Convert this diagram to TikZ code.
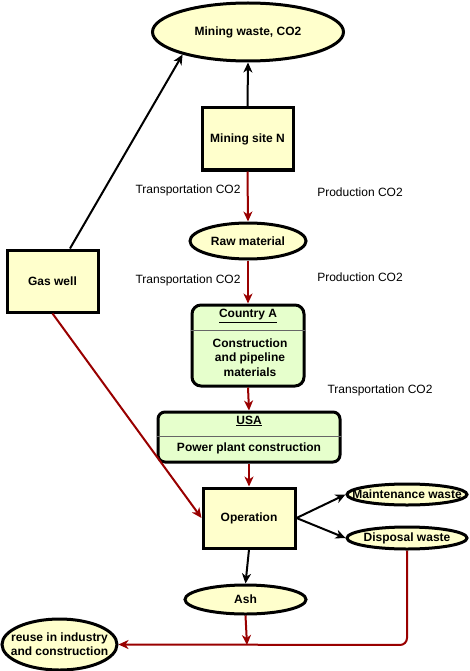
\documentclass[tikz,border=0pt]{standalone}
\usepackage{fontspec}
\setmainfont{Liberation Sans}
\usetikzlibrary{arrows.meta,shapes.geometric}
\definecolor{ylw}{HTML}{FFFFCC}
\definecolor{grn}{HTML}{E6FFCC}
\definecolor{dred}{HTML}{990000}
\begin{document}
\begin{tikzpicture}[x=1pt,y=-1pt,
  every node/.style={font=\fontsize{12}{14}\selectfont},
  box/.style={draw,line width=3pt,fill=ylw,font=\fontsize{12}{14}\selectfont\bfseries,inner sep=0pt},
  ell/.style={ellipse,draw,line width=3pt,fill=ylw,inner sep=0pt},
  btxt/.style={font=\fontsize{12}{14}\selectfont\bfseries,inner sep=0pt,align=center},
  blk/.style={draw=black,line width=2pt,-{Stealth[length=10pt,width=9pt,inset=3pt]}},
  rd/.style={draw=dred,line width=2pt,-{Stealth[length=10pt,width=9pt,inset=3pt]}},
  lbl/.style={font=\fontsize{12}{14}\selectfont}]
\useasboundingbox (0,0) rectangle (469,671);
% nodes
\node[ell,minimum width=191pt,minimum height=58pt] (mw) at (248,32) {};
\node[btxt] (mwt) at (mw.center) {Mining waste, CO2};
\node[box,minimum width=91pt,minimum height=62pt] (ms) at (247.5,139) {Mining site N};
\node[box,minimum width=91pt,minimum height=62pt] (gw) at (52.5,281) {Gas well};
\node[ell,minimum width=116pt,minimum height=36pt] (rm) at (248,241) {};
\node[btxt] (rmt) at (rm.center) {Raw material};
\node[lbl] (t1) at (188,190) {Transportation CO2};
\node[lbl] (p1) at (360,192) {Production CO2};
\node[lbl] (t2) at (188,280) {Transportation CO2};
\node[lbl] (p2) at (360,277) {Production CO2};
\node[lbl] (t3) at (380,390) {Transportation CO2};
% Country A
\node[draw,line width=3pt,fill=grn,rounded corners=9pt,minimum width=112pt,minimum height=81pt,inner sep=0pt] (ca) at (248,345.5) {};
\draw[gray!80!black,line width=1pt] (ca.west |- 0,330) -- (ca.east |- 0,330);
\node[font=\fontsize{12}{14}\selectfont\bfseries] (cat) at (248,316) {\underline{Country A}};
\node[font=\fontsize{12}{14.5}\selectfont\bfseries,align=center] (cab) at (250,357.5) {Construction\\ and pipeline\\ materials};
% USA
\node[draw,line width=3pt,fill=grn,rounded corners=7pt,minimum width=182pt,minimum height=50pt,inner sep=0pt] (usa) at (249,437) {};
\draw[gray!80!black,line width=1pt] (usa.west |- 0,436) -- (usa.east |- 0,436);
\node[font=\fontsize{12}{14}\selectfont\bfseries] (usat) at (249,421) {\underline{USA}};
\node[font=\fontsize{12}{14}\selectfont\bfseries] (usab) at (249,448.5) {Power plant construction};
% operation
\node[box,minimum width=92pt,minimum height=60pt] (op) at (249,518) {Operation};
\node[ell,minimum width=120pt,minimum height=21pt] (mt) at (407,494.5) {};
\node[btxt] (mtt) at (mt.center) {Maintenance waste};
\node[ell,minimum width=120pt,minimum height=22pt] (dw) at (407,538) {};
\node[btxt] (dwt) at (dw.center) {Disposal waste};
\node[ell,minimum width=121pt,minimum height=29pt] (ash) at (245.5,599.5) {};
\node[btxt] (asht) at (ash.center) {Ash};
\node[ell,minimum width=115pt,minimum height=51pt] (ru) at (59.5,644.5) {};
\node[btxt,font=\fontsize{12}{14}\selectfont\bfseries] (rut) at (ru.center) {reuse in industry\\ and construction};
\coordinate (j) at (247,645);
% connectors
\draw[blk] (ms.north) -- (mw.south);
\draw[blk] (gw.north -| 70,0) -- (mw.199);
\draw[rd] (ms.south) -- (rm.north);
\draw[rd] (rm.south) -- (ca.north);
\draw[rd] (ca.south) -- (usa.north);
\draw[rd,line width=2.8pt] (usa.south) -- (op.north);
\draw[rd] (gw.south) -- (op.west);
\draw[blk] (op.east) -- (mt.west);
\draw[blk] (op.east) -- (dw.west);
\draw[blk] (op.south) -- (ash.north);
\draw[rd] (ash.south) -- (j);
\draw[rd,rounded corners=7pt] (dw.south) -- (dw.south |- j) -- (ru.east);
\end{tikzpicture}
\end{document}
